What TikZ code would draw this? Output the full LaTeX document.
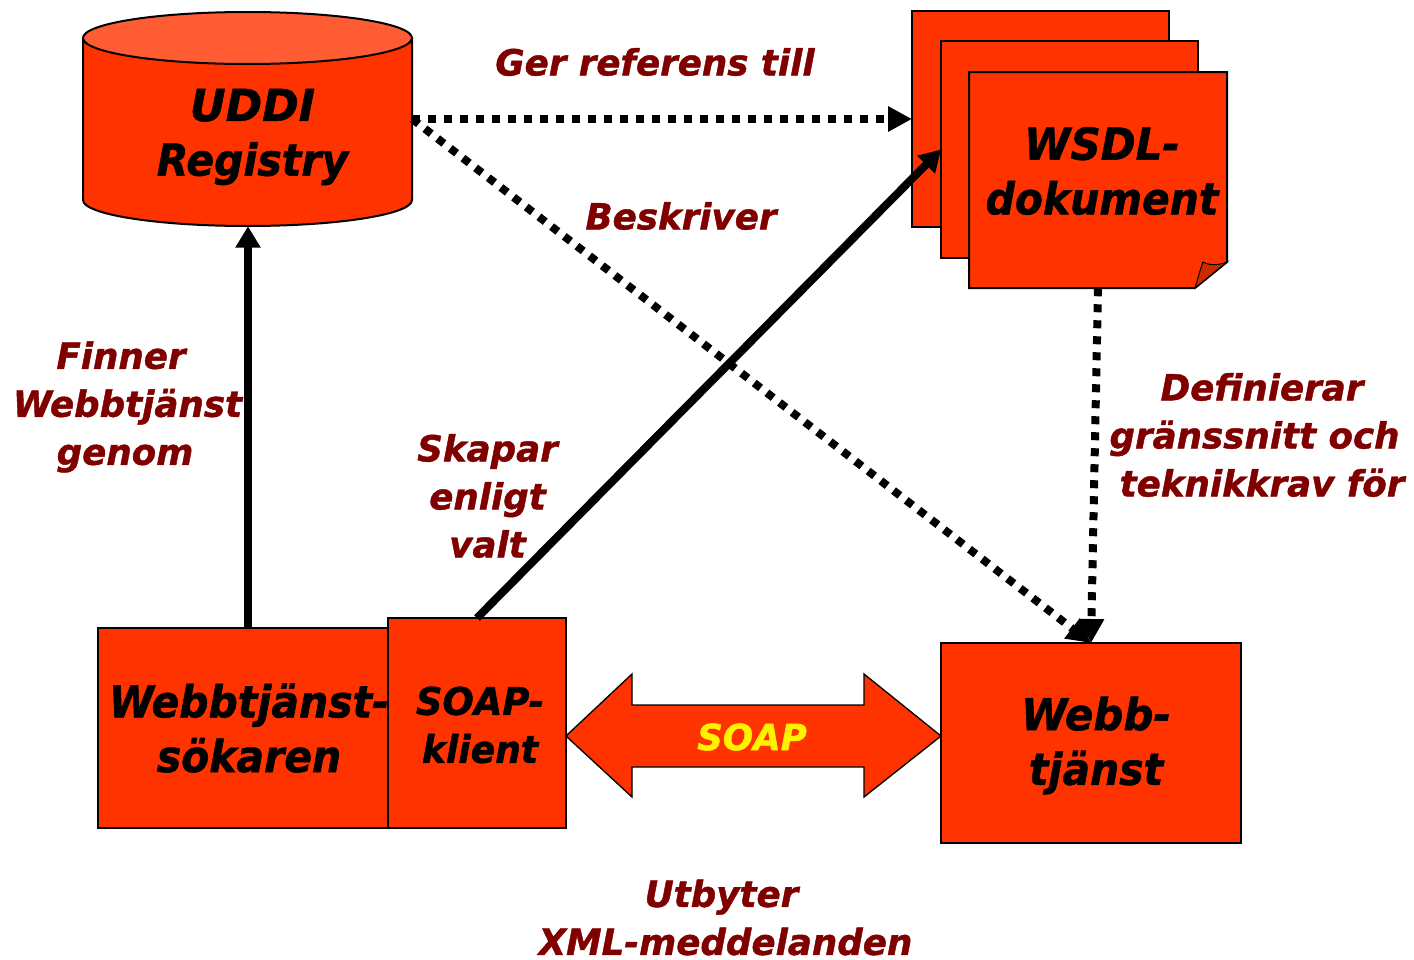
\documentclass[tikz,border=0pt]{standalone}
\usepackage{fontspec}
\setmainfont{DejaVu Sans}
\newfontfamily\bigfam[FakeStretch=0.93,FakeBold=1.2]{DejaVu Sans}
\newfontfamily\capfam[FakeStretch=0.955,FakeBold=1.2]{DejaVu Sans}
\newfontfamily\uddifam[FakeStretch=1.0,FakeBold=1.2]{DejaVu Sans}
\newfontfamily\midfam[FakeStretch=0.95,FakeBold=1.2]{DejaVu Sans}
\newfontfamily\soapfam[FakeStretch=0.97,FakeBold=1.2]{DejaVu Sans}
\newfontfamily\labfam[FakeStretch=0.99,FakeBold=1.2]{DejaVu Sans}
\usetikzlibrary{arrows.meta}
\definecolor{boxred}{HTML}{FF3300}
\definecolor{topred}{HTML}{FF5C33}
\definecolor{foldred}{HTML}{CC2900}
\definecolor{labelred}{HTML}{800000}
\tikzset{
  box/.style n args={4}{draw=black,fill=boxred,line width=1.5pt,inner sep=0pt,anchor=north west,
     minimum width=#3*.75pt-#1*.75pt,minimum height=#4*.75pt-#2*.75pt,outer sep=0pt},
  big/.style={font=\bigfam\bfseries\itshape\fontsize{33}{41}\selectfont,text=black,align=center,inner sep=0pt},
  mid/.style={font=\midfam\bfseries\itshape\fontsize{28.5}{36}\selectfont,text=black,align=center,inner sep=0pt},
  lab/.style={font=\labfam\bfseries\itshape\fontsize{27}{36}\selectfont,text=labelred,align=center,inner sep=0pt},
  dotarrow/.style={line width=6pt,dash pattern=on 6pt off 6pt,-{Triangle[length=18pt,width=18pt]}},
  solidarrow/.style={line width=6pt,-{Triangle[length=16pt,width=18pt]}},
}
\begin{document}
\begin{tikzpicture}[x=.75pt,y=-.75pt]
\useasboundingbox (0,0) rectangle (1414,960);
% cylinder
\path[draw=black,fill=boxred,line width=1.5pt] (83,38) -- (83,200) arc[start angle=180,end angle=0,x radius=164.5,y radius=26] -- (412,38) -- cycle;
\path[draw=black,fill=topred,line width=1.5pt] (247.5,38) ellipse[x radius=164.5,y radius=26];
\node[inner sep=0pt,minimum width=246.75pt,minimum height=160.5pt] (uddi) at (247.5,119) {};
\node[big] (uddit) at (252.5,137) {\uddifam\bfseries\itshape UDDI\\Registry};
% pages
\node[box={912}{11}{1169}{227}] (p1) at (912,11) {};
\node[box={941}{41}{1198}{258}] (p2) at (941,41) {};
\path[draw=black,fill=boxred,line width=1.5pt] (969,72) -- (1227,72) -- (1227,262) -- (1195,288) -- (969,288) -- cycle;
\path[draw=black,fill=foldred,line width=.75pt] (1195,288) .. controls (1198,278) and (1200,270) .. (1203,262) .. controls (1210,266) and (1220,265) .. (1227,262) -- cycle;
\node[inner sep=0pt,minimum width=193.5pt,minimum height=162pt] (p3) at (1098,180) {};
\node[big] (wsdl) at (1102,171) {\capfam\bfseries\itshape WSDL-\\dokument};
% bottom boxes
\node[box={98}{628}{388}{828}] (sok) at (98,628) {};
\node[big] (sokt) at (249,728) {Webbtjänst-\\sökaren};
\node[box={388}{618}{566}{828}] (soap) at (388,618) {};
\node[mid] (soapc) at (480,725) {\soapfam\bfseries\itshape SOAP-\\klient};
\node[box={941}{643}{1241}{843}] (webb) at (941,643) {};
\node[big] (webbt) at (1096,745.5) {\capfam\bfseries\itshape Webb-\\tjänst};
% double arrow
\path[draw=black,fill=boxred,line width=1pt] (566,736) -- (632,674) -- (632,705) -- (864,705) -- (864,674) -- (941,736) -- (864,797) -- (864,767) -- (632,767) -- (632,797) -- cycle;
\node[lab,text=yellow] (soapt) at (752,737) {SOAP};
% connectors
\draw[dotarrow] (uddi.east) -- (p1.west);
\draw[dotarrow] (uddi.east) -- (webb.north);
\draw[dotarrow] (p3.south) -- (webb.north);
\draw[solidarrow] (uddi.south -| sok.north) ++(5,402) coordinate (sokstart) -- (sokstart |- uddi.south);
\draw[solidarrow] (soap.north) -- (p2.west);
% labels
\node[lab] (l1) at (655,62) {Ger referens till};
\node[lab] (l2) at (681,216) {Beskriver};
\node[lab] (l3) at (127.5,407) {Finner\kern9.75pt\\Webbtjänst\\genom\kern3.75pt};
\node[lab] (l4) at (487.5,496) {Skapar\\enligt\\valt};
\node[lab] (l5) at (1262,435) {Definierar\\gränssnitt och\kern11.25pt\\teknikkrav för};
\node[lab] (l6) at (725.5,917.5) {Utbyter\kern6pt\\XML-meddelanden};
\end{tikzpicture}
\end{document}
